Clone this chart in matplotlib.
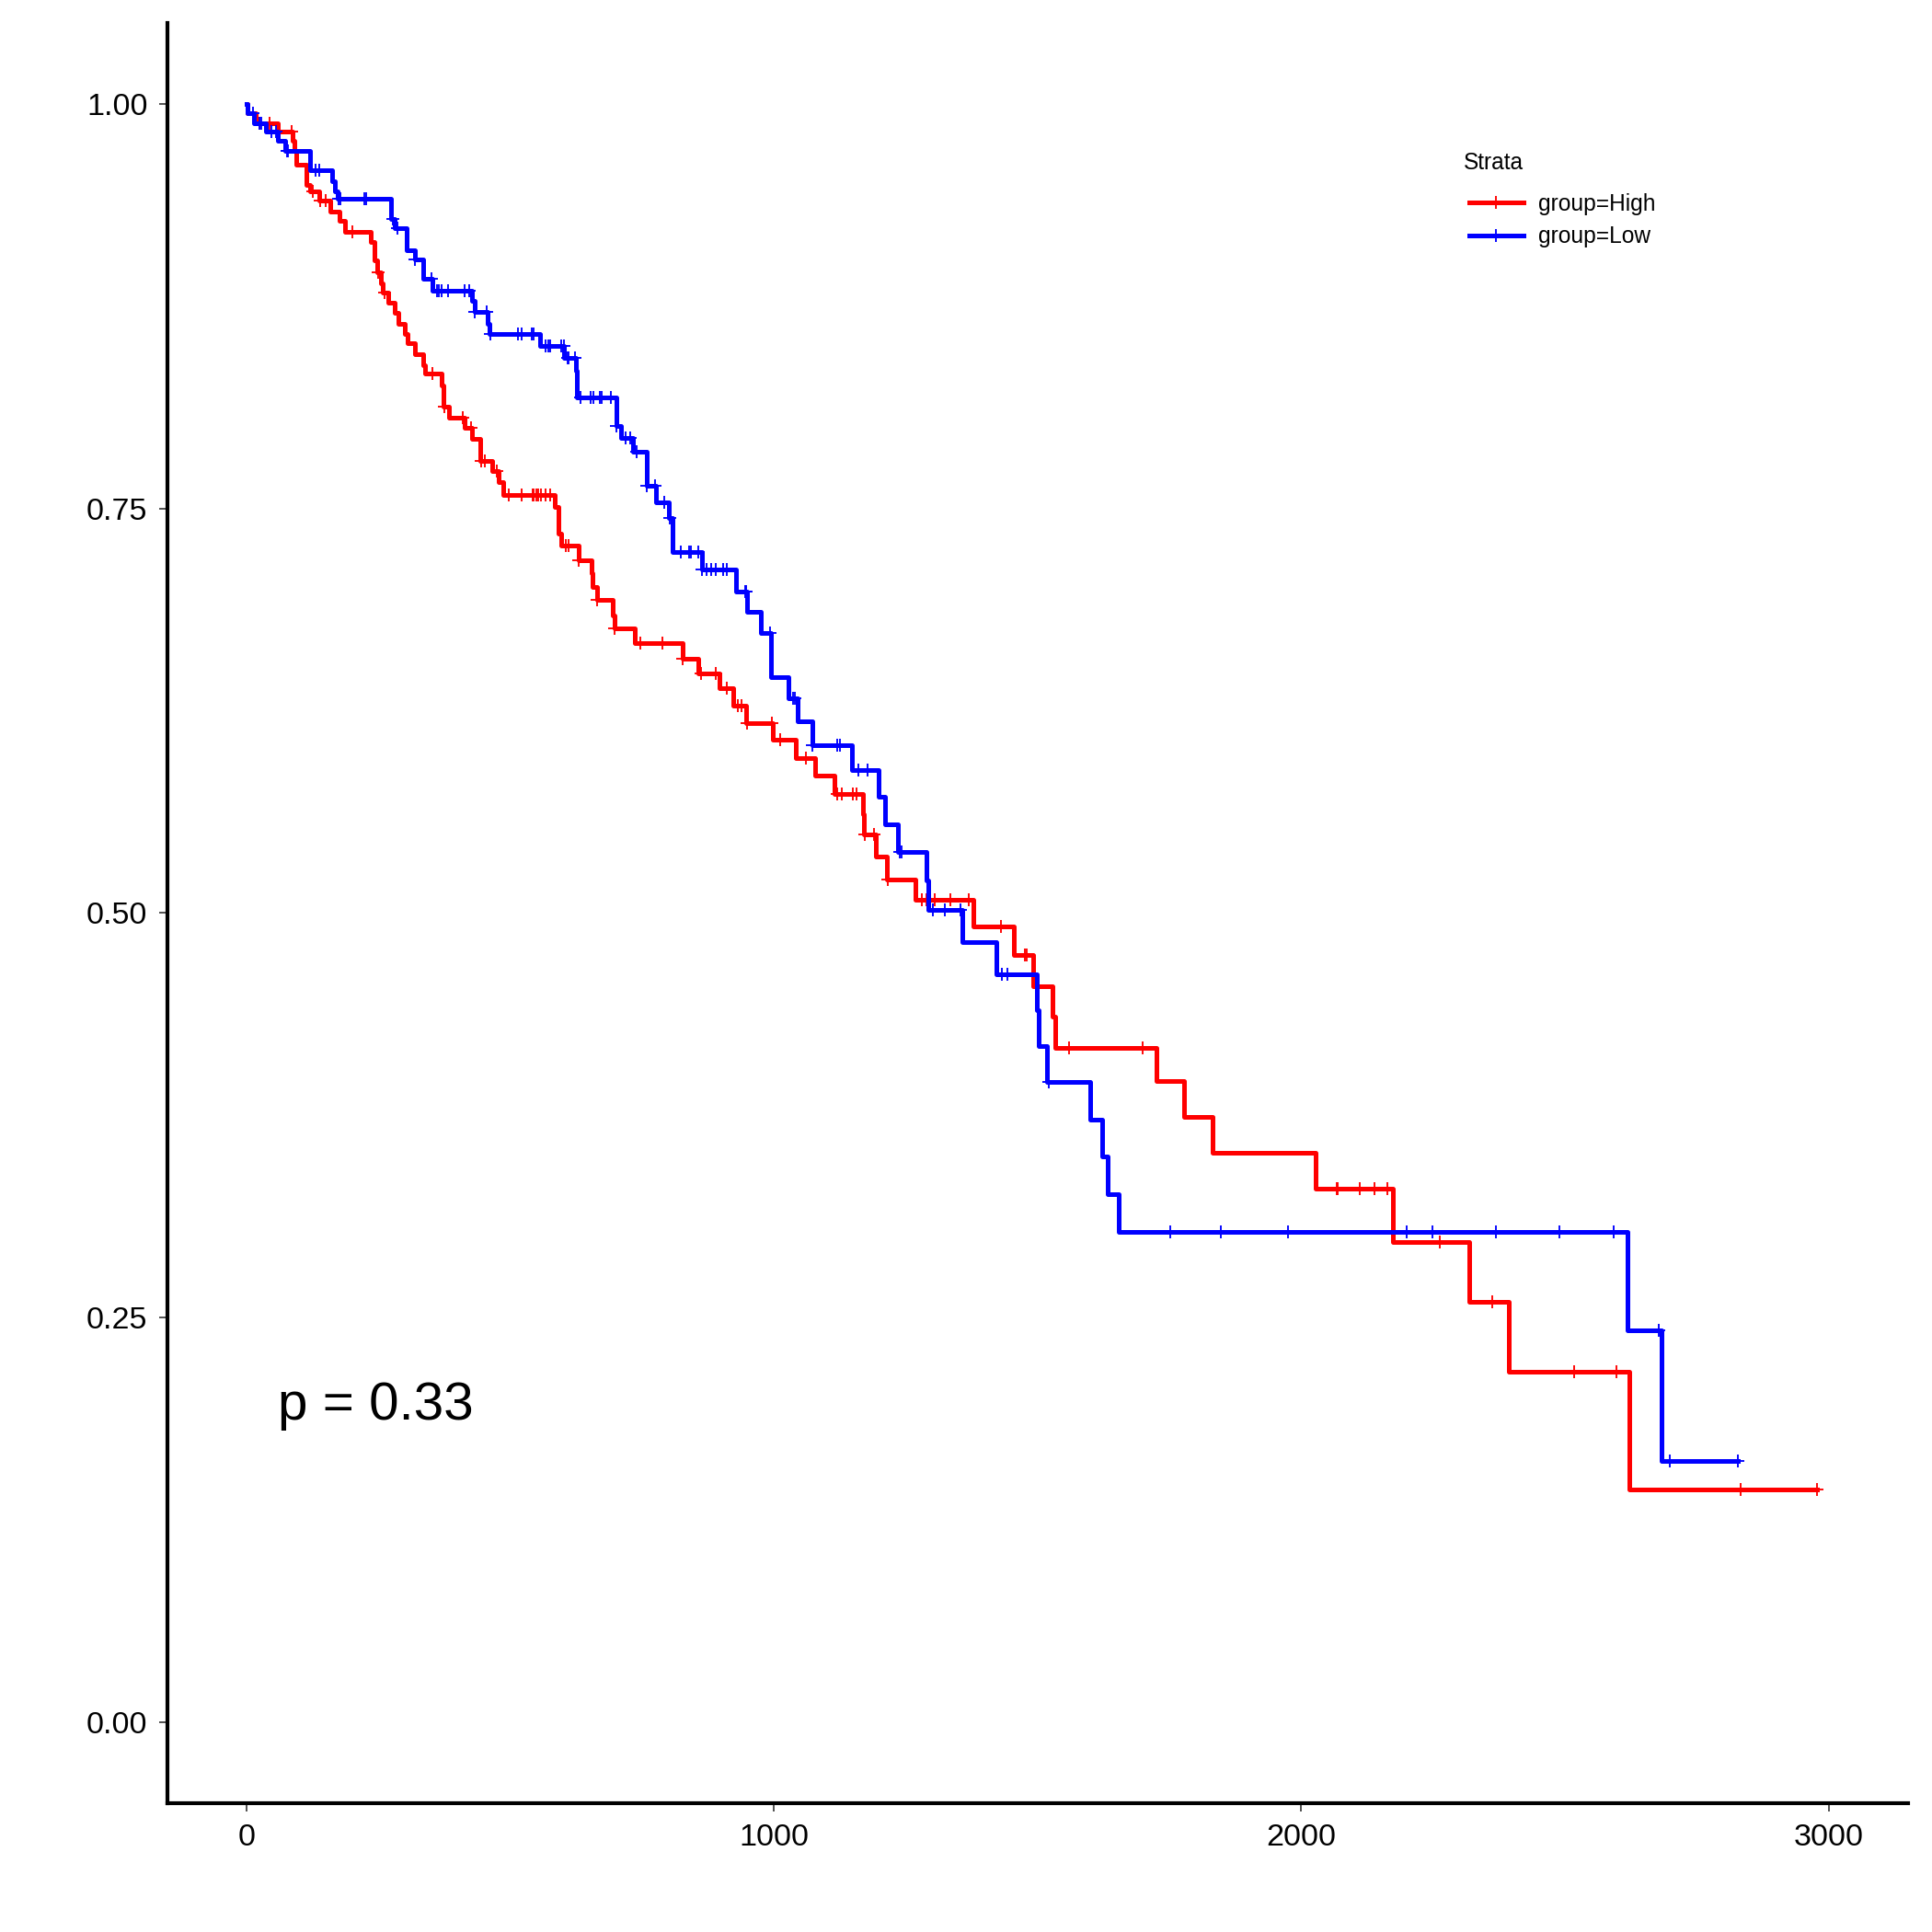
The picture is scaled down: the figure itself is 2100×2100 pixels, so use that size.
import numpy as np
import matplotlib.pyplot as plt
from matplotlib.lines import Line2D

plt.rcParams['font.family'] = ['Liberation Sans', 'DejaVu Sans']

# Kaplan-Meier step values (time in days, survival)
high_time = [0, 1, 18, 59, 88, 91, 94, 114, 121, 137, 158, 177, 187, 236, 242, 248,
             254, 258, 268, 280, 288, 300, 306, 320, 335, 338, 370, 373, 383, 414,
             428, 443, 466, 478, 486, 585, 592, 597, 629, 654, 656, 664, 694, 697,
             736, 827, 856, 896, 922, 948, 998, 1042, 1079, 1115, 1168, 1171, 1193,
             1214, 1268, 1379, 1455, 1492, 1529, 1533, 1726, 1778, 1832, 2028, 2174,
             2318, 2394, 2622]
high_surv = [1.0, 0.994, 0.988, 0.9825, 0.977, 0.971, 0.962, 0.950, 0.946, 0.940,
             0.933, 0.9275, 0.921, 0.9145, 0.903, 0.896, 0.889, 0.883, 0.877, 0.871,
             0.864, 0.8575, 0.852, 0.845, 0.8385, 0.833, 0.826, 0.813, 0.806, 0.800,
             0.793, 0.779, 0.773, 0.766, 0.7585, 0.7506, 0.7345, 0.727, 0.718, 0.710,
             0.7016, 0.6936, 0.684, 0.6757, 0.6667, 0.657, 0.648, 0.6387, 0.628,
             0.6175, 0.607, 0.596, 0.5847, 0.5734, 0.561, 0.5485, 0.535, 0.521, 0.508,
             0.492, 0.474, 0.455, 0.436, 0.417, 0.396, 0.374, 0.352, 0.330, 0.297,
             0.260, 0.2168, 0.1439]
high_end = 2978
high_censor = [24, 44, 85, 125, 140, 150, 200, 250, 262, 352, 375, 410, 425, 445, 451,
               474, 498, 521, 542, 545, 550, 553, 559, 567, 576, 606, 611, 629, 664,
               698, 746, 789, 827, 861, 890, 911, 931, 939, 949, 997, 1012, 1060, 1120,
               1129, 1149, 1156, 1172, 1190, 1216, 1280, 1289, 1305, 1334, 1369, 1430,
               1476, 1480, 1560, 1700, 2067, 2069, 2111, 2139, 2164, 2263, 2362, 2517,
               2597, 2834, 2978]

low_time = [0, 1, 14, 36, 59, 73, 120, 163, 167, 172, 274, 280, 303, 320, 335, 352,
            428, 433, 457, 460, 557, 602, 624, 626, 701, 710, 733, 759, 777, 800, 807,
            864, 928, 949, 976, 995, 1027, 1045, 1073, 1148, 1199, 1210, 1236, 1289,
            1293, 1357, 1421, 1498, 1502, 1517, 1600, 1622, 1633, 1654, 2619, 2683]
low_surv = [1.0, 0.994, 0.988, 0.9825, 0.977, 0.971, 0.959, 0.952, 0.946, 0.941,
            0.9285, 0.923, 0.9095, 0.904, 0.8916, 0.8843, 0.878, 0.8711, 0.864, 0.8575,
            0.8503, 0.8427, 0.835, 0.8186, 0.801, 0.7935, 0.7848, 0.7637, 0.7537,
            0.744, 0.723, 0.712, 0.6987, 0.686, 0.6728, 0.6459, 0.6325, 0.6183,
            0.6037, 0.5885, 0.572, 0.5548, 0.5378, 0.520, 0.502, 0.482, 0.462, 0.440,
            0.418, 0.3957, 0.3726, 0.3495, 0.3262, 0.3029, 0.2422, 0.1614]
low_end = 2828
low_censor = [12, 24, 27, 47, 56, 76, 79, 131, 137, 175, 178, 224, 227, 277, 286, 320,
              350, 361, 364, 370, 382, 414, 422, 433, 455, 463, 514, 521, 540, 544, 567,
              573, 576, 597, 601, 608, 611, 623, 633, 652, 658, 670, 673, 690, 701, 719,
              728, 739, 759, 774, 792, 803, 823, 839, 842, 856, 864, 873, 881, 889, 904,
              911, 945, 947, 993, 1036, 1040, 1073, 1120, 1126, 1160, 1177, 1238, 1243,
              1302, 1325, 1353, 1433, 1442, 1521, 1751, 1847, 1975, 2200, 2249, 2369,
              2489, 2592, 2678, 2699, 2828]

groups = ['group=High', 'group=Low']
colors = ['#FF0000', '#0000FF']
p_text = 'p = 0.33'
x_ticks = [0, 1000, 2000, 3000]
y_ticks = [0.0, 0.25, 0.5, 0.75, 1.0]


def surv_at(times, surv, t):
    idx = np.searchsorted(times, t, side='right') - 1
    return np.asarray(surv)[idx]


fig = plt.figure(figsize=(7, 7), dpi=300)
ax = fig.add_axes([0.0867, 0.0665, 0.9007, 0.9218])

curves = [(high_time, high_surv, high_end, high_censor),
          (low_time, low_surv, low_end, low_censor)]
for (tt, ss, end, cens), col in zip(curves, colors):
    x = np.append(tt, end)
    y = np.append(ss, ss[-1])
    ax.step(x, y, where='post', color=col, lw=1.2)
    ax.plot(cens, surv_at(tt, ss, cens), ls='none', marker='+', ms=3.3,
            mew=0.45, color=col)

# p-value, baseline placed just below 0.2 so the digits are centred on it
ax.text(60, 0.187, p_text, fontsize=14.0, ha='left', va='baseline')

ax.set_xlim(-150, 3150)
ax.set_ylim(-0.05, 1.05)
ax.set_xticks(x_ticks)
ax.set_xticklabels([str(v) for v in x_ticks])
ax.set_yticks(y_ticks)
ax.set_yticklabels(['%.2f' % v for v in y_ticks])
for s in ['top', 'right']:
    ax.spines[s].set_visible(False)
for s in ['left', 'bottom']:
    ax.spines[s].set_linewidth(1.0)
    ax.spines[s].set_color('black')
ax.tick_params(length=2.2, width=0.4, color='#333333', labelsize=8.2,
               labelcolor='black', pad=3)

# legend: title as separate text, entries below
fig.text(0.7575, 1 - 184 / 2100, 'Strata', fontsize=5.9, ha='left', va='baseline')
handles = [Line2D([], [], color=c, lw=1.2, marker='+', ms=3.3, mew=0.45) for c in colors]
leg = ax.legend(handles, groups, loc='center left',
                bbox_to_anchor=(0.7606, 1 - 239.5 / 2100), bbox_transform=fig.transFigure,
                frameon=False, fontsize=5.9, handlelength=2.37, handletextpad=0.65,
                labelspacing=0.47, borderpad=0, borderaxespad=0)

fig.savefig('out.png', dpi=300, facecolor='white')
